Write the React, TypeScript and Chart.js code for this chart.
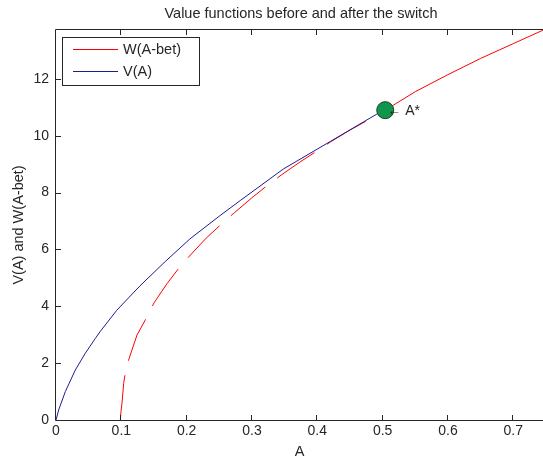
import React, { useEffect, useRef } from 'react';
import { Chart, registerables } from 'chart.js';

Chart.register(...registerables);

// V(A): value function before the switch (ends at A*)
const vA = [0, 0.004, 0.0143, 0.0296, 0.0449, 0.0602, 0.0679, 0.093, 0.1286, 0.167, 0.205, 0.251, 0.282, 0.348, 0.42, 0.491, 0.504];
const vValues = [0, 0.35, 1.0, 1.76, 2.35, 2.87, 3.12, 3.86, 4.72, 5.57, 6.37, 7.19, 7.72, 8.83, 9.8, 10.76, 10.9];

// W(A-bet): dashed part (A < A*)
const wDashA = [0.0985, 0.0995, 0.101, 0.1036, 0.106, 0.109, 0.112, 0.124, 0.1367, 0.15, 0.17, 0.19, 0.206, 0.23, 0.255, 0.273, 0.3, 0.3266, 0.3456, 0.375, 0.404, 0.42, 0.45, 0.48, 0.504];
const wDashValues = [0, 0.3, 0.59, 1.29, 1.64, 1.95, 2.17, 2.99, 3.52, 4.12, 4.8, 5.4, 5.81, 6.4, 6.93, 7.29, 7.82, 8.31, 8.63, 9.1, 9.53, 9.78, 10.2, 10.58, 10.9];

// W(A-bet): solid part (A >= A*)
const wSolidA = [0.504, 0.55, 0.6, 0.65, 0.7, 0.746];
const wSolidValues = [10.9, 11.55, 12.15, 12.72, 13.24, 13.72];

// A* marker
const starA = [0.504];
const starValues = [10.9];

const xTicks = [0, 0.1, 0.2, 0.3, 0.4, 0.5, 0.6, 0.7];
const yTicks = [0, 2, 4, 6, 8, 10, 12];

const titleText = 'Value functions before and after the switch';
const xLabel = 'A';
const yLabel = 'V(A) and W(A-bet)';
const wLabel = 'W(A-bet)';
const vLabel = 'V(A)';
const starLabel = '\u2190 A*';

const FONT = '"Liberation Sans", Arial, Helvetica, sans-serif';
const INK = '#262626';
const RED = '#ff0000';
const BLUE = '#1c1c96';

const toPts = (xs: number[], ys: number[]) => xs.map((x, i) => ({ x, y: ys[i] }));

const framePlugin = {
  id: 'matlabFrame',
  afterDatasetsDraw(chart: any) {
    const { ctx, chartArea, scales } = chart;
    const xs = scales.x;
    const ys = scales.y;
    const L = chartArea.left;
    const R = chartArea.right;
    const T = chartArea.top;
    const B = chartArea.bottom;

    // annotation arrow + text
    const meta = chart.getDatasetMeta(3);
    const pt = meta.data[0];
    ctx.save();
    ctx.fillStyle = INK;
    ctx.font = `14px ${FONT}`;
    ctx.textBaseline = 'middle';
    ctx.textAlign = 'left';
    ctx.fillText(starLabel, pt.x + 2, pt.y + 1);
    ctx.restore();

    // axes box and inward ticks
    ctx.save();
    ctx.strokeStyle = INK;
    ctx.lineWidth = 1;
    ctx.beginPath();
    ctx.moveTo(L - 0.5, T - 0.5);
    ctx.lineTo(L - 0.5, B + 0.5);
    ctx.lineTo(R + 1, B + 0.5);
    ctx.moveTo(L - 0.5, T - 0.5);
    ctx.lineTo(R + 1, T - 0.5);
    xTicks.forEach((v) => {
      const px = Math.round(xs.getPixelForValue(v)) - 0.5;
      ctx.moveTo(px, B);
      ctx.lineTo(px, B - 5);
      ctx.moveTo(px, T);
      ctx.lineTo(px, T + 5);
    });
    yTicks.forEach((v) => {
      const py = Math.round(ys.getPixelForValue(v)) + 0.5;
      ctx.moveTo(L, py);
      ctx.lineTo(L + 5, py);
    });
    ctx.stroke();
    ctx.restore();

    // legend
    ctx.save();
    const bx = 62.5, by = 37.5, bw = 137, bh = 48;
    ctx.fillStyle = '#ffffff';
    ctx.fillRect(bx, by, bw, bh);
    ctx.strokeStyle = INK;
    ctx.lineWidth = 1;
    ctx.strokeRect(bx, by, bw, bh);
    const entries = [
      { label: wLabel, color: RED, y: 49.5 },
      { label: vLabel, color: BLUE, y: 71.5 },
    ];
    entries.forEach((e) => {
      ctx.beginPath();
      ctx.strokeStyle = e.color;
      ctx.lineWidth = 1;
      ctx.moveTo(73, e.y);
      ctx.lineTo(118, e.y);
      ctx.stroke();
      ctx.fillStyle = INK;
      ctx.font = `14.5px ${FONT}`;
      ctx.textBaseline = 'middle';
      ctx.textAlign = 'left';
      ctx.fillText(e.label, 123, e.y + 0.5);
    });
    ctx.restore();

    // title centred over the full axes (0 .. 0.75)
    ctx.save();
    const cx = (xs.getPixelForValue(0) + xs.getPixelForValue(0.75)) / 2;
    ctx.fillStyle = INK;
    ctx.font = `14.5px ${FONT}`;
    ctx.textAlign = 'center';
    ctx.textBaseline = 'alphabetic';
    ctx.fillText(titleText, cx, 18);
    ctx.restore();
  },
};

export default function App() {
  const ref = useRef<HTMLCanvasElement | null>(null);

  useEffect(() => {
    if (!ref.current) return;
    const chart = new Chart(ref.current, {
      type: 'line',
      data: {
        datasets: [
          {
            label: wLabel,
            data: toPts(wDashA, wDashValues),
            borderColor: RED,
            borderWidth: 1,
            borderDash: [45, 15],
            pointRadius: 0,
            tension: 0,
            order: 4,
          },
          {
            label: wLabel,
            data: toPts(wSolidA, wSolidValues),
            borderColor: RED,
            borderWidth: 1,
            pointRadius: 0,
            tension: 0,
            order: 3,
          },
          {
            label: vLabel,
            data: toPts(vA, vValues),
            borderColor: BLUE,
            borderWidth: 1,
            pointRadius: 0,
            tension: 0,
            order: 2,
          },
          {
            label: 'A*',
            data: toPts(starA, starValues),
            showLine: false,
            pointRadius: 8.5,
            pointBackgroundColor: '#10964a',
            pointBorderColor: '#1e3b28',
            pointBorderWidth: 1,
            clip: false,
            order: 1,
          },
        ],
      } as any,
      options: {
        animation: false,
        responsive: true,
        maintainAspectRatio: false,
        layout: { autoPadding: false, padding: { top: 30, left: 0, right: 0, bottom: 0 } },
        plugins: {
          legend: { display: false },
          tooltip: { enabled: false },
          title: { display: false },
        },
        scales: {
          x: {
            type: 'linear',
            min: 0,
            max: 0.7455,
            grid: { display: false, drawTicks: false },
            border: { display: false },
            afterBuildTicks: (s: any) => {
              s.ticks = xTicks.map((v) => ({ value: v }));
            },
            afterFit: (s: any) => {
              s.height = 42;
              s.paddingLeft = 0;
              s.paddingRight = 0;
            },
            ticks: {
              color: INK,
              font: { family: FONT, size: 14 },
              padding: 3,
              maxRotation: 0,
              autoSkip: false,
              callback: (v: any) => String(v),
            },
            title: {
              display: true,
              text: xLabel,
              color: INK,
              font: { family: FONT, size: 14.5 },
              padding: { top: 0, bottom: 1 },
            },
          },
          y: {
            type: 'linear',
            min: 0,
            max: 13.72,
            grid: { display: false, drawTicks: false },
            border: { display: false },
            afterBuildTicks: (s: any) => {
              s.ticks = yTicks.map((v) => ({ value: v }));
            },
            afterFit: (s: any) => {
              s.width = 56;
              s.paddingTop = 0;
              s.paddingBottom = 0;
            },
            ticks: {
              color: INK,
              font: { family: FONT, size: 14 },
              padding: 7,
              autoSkip: false,
              callback: (v: any) => String(v),
            },
            title: {
              display: true,
              text: yLabel,
              color: INK,
              font: { family: FONT, size: 14.5 },
              padding: { top: 10, bottom: 0 },
            },
          },
        },
      } as any,
      plugins: [framePlugin],
    });
    return () => chart.destroy();
  }, []);

  return (
    <div style={{ position: 'fixed', left: 0, top: 0, width: 543, height: 462, background: '#ffffff' }}>
      <canvas ref={ref} />
    </div>
  );
}
